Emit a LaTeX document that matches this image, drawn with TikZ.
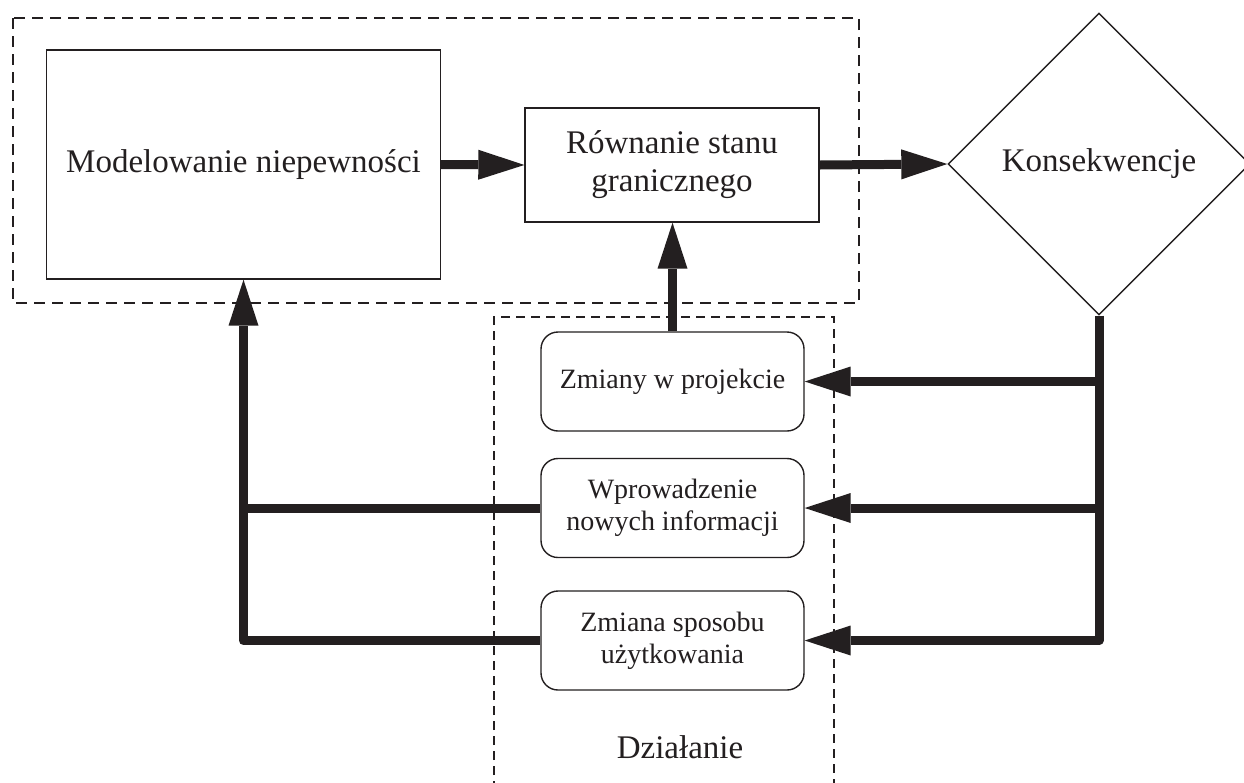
\documentclass[tikz,border=0pt]{standalone}
\usepackage{fontspec}
\setmainfont{Liberation Serif}
\usetikzlibrary{shapes.geometric,arrows.meta}
\definecolor{ink}{HTML}{231F20}
\begin{document}
\begin{tikzpicture}[x=1pt,y=-1pt,
  box/.style={draw=ink,line width=1.4pt,inner sep=0pt,align=center,text=ink,font=\fontsize{33}{38}\selectfont},
  rbox/.style={box,rounded corners=17pt,minimum width=263pt,minimum height=99pt,font=\fontsize{28}{32}\selectfont},
  conn/.style={draw=ink,line width=9pt,line join=round},
  arr/.style={conn,-{Triangle[length=46pt,width=30pt,line width=0pt]}},
  frame/.style={draw=ink,line width=2.4pt,dash pattern=on 11pt off 7pt},
  frameb/.style={draw=ink,line width=2pt,dash pattern=on 9pt off 6pt}]
\useasboundingbox (0,0) rectangle (1244,782);
\fill[white] (0,0) rectangle (1244,782);
% dashed groups
\draw[frame] (13,18) rectangle (859,303);
\draw[frameb] (494,790) -- (494,317) -- (834,317) -- (834,790);
% nodes
\node[box,minimum width=394pt,minimum height=229pt] (model) at (243.5,164.5) {Modelowanie niepewności};
\node[box,minimum width=294pt,minimum height=114pt] (rown) at (672,165) {Równanie stanu\\granicznego};
\node[box,shape=diamond,aspect=1,minimum width=302pt,minimum height=302pt] (dia) at (1099,164) {Konsekwencje};
\node[rbox] (b1) at (672.5,381.5) {Zmiany w projekcie};
\node[rbox] (b2) at (672.5,508) {Wprowadzenie\\nowych informacji};
\node[rbox] (b3) at (672.5,640.5) {Zmiana sposobu\\użytkowania};
\node[text=ink,font=\fontsize{33}{38}\selectfont] (dz) at (680,747) {Działanie};
% connectors
\draw[arr] (model.east) -- (rown.west);
\draw[arr] (rown.east) -- (dia.west);
\draw[arr] (b1.north) -- (b1.north |- rown.south);
\draw[arr] (dia.south) -- (dia.south |- b3.east) -- (b3.east);
\draw[arr] (dia.south |- b1.east) -- (b1.east);
\draw[arr] (dia.south |- b2.east) -- (b2.east);
\draw[arr] (b3.west) -- (model.south |- b3.west) -- (model.south);
\draw[conn] (b2.west) -- (model.south |- b2.west);
\end{tikzpicture}
\end{document}
